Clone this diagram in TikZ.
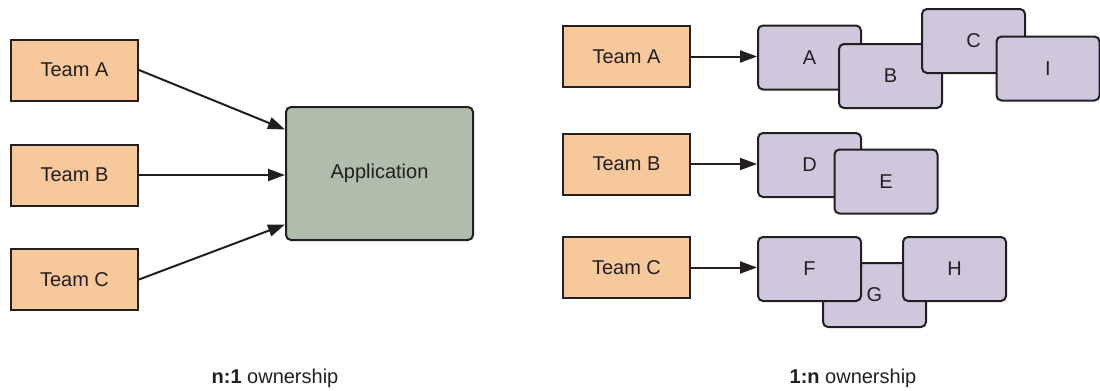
\documentclass[tikz,border=0pt]{standalone}
\usepackage{fontspec}
\setmainfont{Liberation Sans}
\usepackage{tikz}
\usetikzlibrary{arrows.meta, positioning, calc}
\definecolor{teamorange}{RGB}{247, 200, 156}
\definecolor{appgreen}{RGB}{175, 189, 170}
\definecolor{partlilac}{RGB}{207, 200, 220}
\definecolor{inkgray}{RGB}{35, 31, 32}

\begin{document}
\begin{tikzpicture}[
    x=0.5pt, y=-0.5pt,
    team/.style={draw=inkgray, line width=1pt, rectangle, fill=teamorange, minimum width=63.5pt, minimum height=30.5pt, text=inkgray, font=\normalsize},
    app/.style={draw=inkgray, line width=1pt, rectangle, rounded corners=2.5pt, fill=appgreen, minimum width=93.5pt, minimum height=66.5pt, text=inkgray},
    part/.style={draw=inkgray, line width=1pt, rectangle, rounded corners=2.5pt, fill=partlilac, minimum width=51.5pt, minimum height=32pt, text=inkgray},
    caption/.style={text=inkgray, font=\normalsize},
    arrow/.style={-{Triangle[length=8.5pt, width=6pt]}, line width=1pt, draw=inkgray}
]
\useasboundingbox (0,0) rectangle (1100,391);

% n:1 ownership (left)
\node[team] (lteama) at (74.5, 70) {Team A};
\node[team] (lteamb) at (74.5, 175) {Team B};
\node[team] (lteamc) at (74.5, 279.5) {Team C};
\node[app] (app) at (379.5, 173.5) {Application};

\draw[arrow] (lteama.east) -- ([yshift=22pt]app.west);
\draw[arrow] (lteamb.east) -- (lteamb.east -| app.west);
\draw[arrow] (lteamc.east) -- ([yshift=-25.5pt]app.west);

\node[caption] (lcap) at (275, 378) {\textbf{n:1} ownership};

% 1:n ownership (right)
\node[team] (rteama) at (626.5, 56.5) {Team A};
\node[team] (rteamb) at (626.5, 164) {Team B};
\node[team] (rteamc) at (626.5, 267.5) {Team C};

% parts of Team A
\node[part] (pa) at (809.5, 57.5) {A};
\node[part] (pb) at (890.5, 76) {B};
\node[part] (pc) at (973.5, 41) {C};
\node[part] (pi) at (1048, 68.5) {I};

% parts of Team B
\node[part] (pd) at (809.5, 165) {D};
\node[part] (pe) at (886, 181.5) {E};

% parts of Team C
\node[part] (pg) at (874.5, 295) {G};
\node[part] (pf) at (809.5, 269) {F};
\node[part] (ph) at (954.5, 269) {H};

\draw[arrow] (rteama.east) -- (rteama.east -| pa.west);
\draw[arrow] (rteamb.east) -- (rteamb.east -| pd.west);
\draw[arrow] (rteamc.east) -- (rteamc.east -| pf.west);

\node[caption] (rcap) at (853, 378) {\textbf{1:n} ownership};

\end{tikzpicture}
\end{document}
